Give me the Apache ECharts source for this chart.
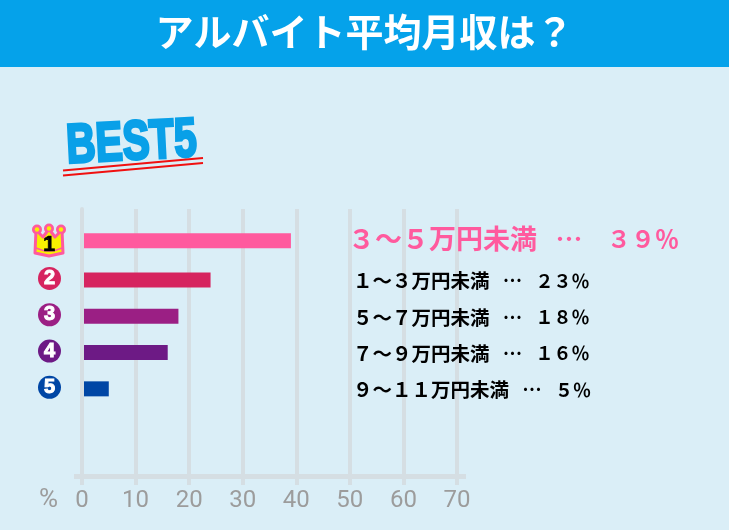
<!DOCTYPE html>
<html>
<head>
<meta charset="utf-8">
<style>
  html, body { margin: 0; padding: 0; background: #daeef7; }
  #chart { width: 729px; height: 530px; }
</style>
<script src="https://cdn.jsdelivr.net/npm/echarts@6/dist/echarts.min.js"></script>
</head>
<body>
<div id="chart"></div>
<script>
var titleText = 'アルバイト平均月収は？';
var categories = ['３～５万円未満', '１～３万円未満', '５～７万円未満', '７～９万円未満', '９～１１万円未満'];
var percents = ['３９', '２３', '１８', '１６', '５'];
// bar lengths as drawn (the second bar is drawn longer than its 23% label)
var barValues = [39, 24, 18, 16, 5];
var ranks = ['1', '2', '3', '4', '5'];
var rankColors = ['#ff5a9e', '#d6245f', '#9b1f84', '#6d1a85', '#0046a5'];
var tickValues = [0, 10, 20, 30, 40, 50, 60, 70];

var gridColor = '#d5dee3';
var jpFont = 'Noto Sans CJK JP';
var crownPink = '#ff5a9e';
var crownYellow = '#f8f000';
var chart = echarts.init(document.getElementById('chart'));

function barData(from, to) {
    return barValues.map(function (v, i) {
        if (i < from || i > to) return null;
        return { value: v, itemStyle: { color: rankColors[i] } };
    });
}

var badgeRich = {};
ranks.forEach(function (r, i) {
    badgeRich['r' + r] = {
        width: 23, height: 23, lineHeight: 23, borderRadius: 12,
        align: 'center', backgroundColor: rankColors[i], color: '#fff',
        textBorderColor: '#fff', textBorderWidth: 1,
        fontFamily: 'Liberation Sans', fontWeight: 'bold', fontSize: 20
    };
});

function crownTip(cx, cy) {
    return [
        { type: 'circle', z: 2, shape: { cx: cx, cy: cy, r: 5 }, style: { fill: crownPink } },
        { type: 'circle', z: 4, shape: { cx: cx, cy: cy, r: 2.2 }, style: { fill: crownYellow } }
    ];
}

var option = {
    backgroundColor: '#daeef7',
    animation: false,
    title: {
        text: titleText, left: 'center', top: 8,
        textStyle: { color: '#fff', fontSize: 38, fontWeight: 'bold', fontFamily: jpFont }
    },
    // grid 0 carries the axis and gridlines, grid 1 the five rows
    grid: [
        { left: 82, width: 375, top: 209, height: 267 },
        { left: 82, width: 375, top: 224, height: 181.5 }
    ],
    xAxis: [{
        gridIndex: 0, type: 'value', min: 0, max: 70, interval: 10,
        axisLine: { show: true, lineStyle: { color: gridColor, width: 5 } },
        axisTick: { show: true, length: 9, lineStyle: { color: gridColor, width: 4 } },
        splitLine: { show: true, lineStyle: { color: gridColor, width: 4 } },
        axisLabel: {
            margin: 13, color: '#9c9c9c', fontSize: 24,
            fontFamily: 'Roboto',
            customValues: tickValues
        }
    }, {
        gridIndex: 1, type: 'value', min: 0, max: 70, show: false
    }],
    yAxis: [{
        // zero line sits on top of the bars
        gridIndex: 0, type: 'value', z: 3,
        axisLine: { show: true, lineStyle: { color: gridColor, width: 4 } },
        axisTick: { show: false }, axisLabel: { show: false }, splitLine: { show: false }
    }, {
        gridIndex: 1, type: 'category', inverse: true, data: categories,
        axisLine: { show: false }, axisTick: { show: false },
        axisLabel: {
            interval: 0, margin: 32.5, align: 'center', rich: badgeRich,
            formatter: function (v, i) {
                return i === 0 ? '' : '{r' + ranks[i] + '|' + ranks[i] + '}';
            }
        }
    }, {
        gridIndex: 1, type: 'category', inverse: true, data: categories,
        position: 'right', offset: -109,
        axisLine: { show: false }, axisTick: { show: false },
        axisLabel: {
            interval: 0, margin: 0, align: 'left',
            rich: {
                top: { color: rankColors[0], fontSize: 27, fontWeight: 'bold', fontFamily: jpFont, padding: [0, 0, 6, 0] },
                topPct: { color: rankColors[0], fontSize: 24, fontWeight: 'bold', fontFamily: jpFont, padding: [0, 0, 6, 0] },
                row: { color: '#000', fontSize: 19.5, fontWeight: 'bold', fontFamily: jpFont, padding: [5, 0, 0, 5] },
                rowPct: { color: '#000', fontSize: 18, fontWeight: 'bold', fontFamily: jpFont, padding: [5, 0, 0, 0] }
            },
            formatter: function (v, i) {
                var s = i === 0 ? 'top' : 'row';
                var gap2 = i === 0 ? '    ' : '   ';
                return '{' + s + '|' + v + '   …' + gap2 + '}{' + s + 'Pct|' + percents[i] + '％}';
            }
        }
    }],
    series: [{
        type: 'bar', xAxisIndex: 1, yAxisIndex: 1, barWidth: 15, barGap: '-80%',
        data: barData(0, 0)
    }, {
        type: 'bar', xAxisIndex: 1, yAxisIndex: 1, barWidth: 15, barGap: '-80%',
        data: barData(1, 4)
    }],
    graphic: [
        { type: 'rect', z: -1, shape: { x: 0, y: 0, width: 729, height: 67 }, style: { fill: '#05a2ea' } },
        // baseline runs a little past both ends of the axis
        { type: 'rect', z: 1, shape: { x: 74, y: 474, width: 392, height: 5 }, style: { fill: gridColor } },
        { type: 'text', x: 39, y: 487, style: { text: '%', fill: '#9c9c9c', fontSize: 26, fontFamily: 'Roboto' } },
        // BEST5 stamp
        {
            type: 'text', x: 65, y: 120, rotation: 3 * Math.PI / 180, scaleX: 0.88, scaleY: 1.2,
            style: { text: 'BEST5', fill: '#09a0e8', stroke: '#09a0e8', lineWidth: 2.5, fontSize: 46, fontWeight: 'bold', fontFamily: 'Liberation Sans' }
        },
        { type: 'line', z: 5, shape: { x1: 63, y1: 170.5, x2: 203, y2: 158 }, style: { stroke: '#f01010', lineWidth: 2 } },
        { type: 'line', z: 5, shape: { x1: 63, y1: 175.5, x2: 203, y2: 163 }, style: { stroke: '#f01010', lineWidth: 2 } },
        // crown
        {
            type: 'polygon', z: 3,
            shape: { points: [[36, 230], [43, 237], [49, 229], [55, 237], [62, 230], [63, 253], [49, 256], [35, 253]] },
            style: { fill: crownYellow, stroke: crownPink, lineWidth: 3, lineJoin: 'round' }
        },
        { type: 'polyline', z: 4, shape: { points: [[36, 248], [43, 250.5], [49, 251], [55, 250.5], [62, 248]] }, style: { stroke: crownPink, fill: 'none', lineWidth: 1.5 } }
    ].concat(crownTip(37, 229.5), crownTip(49, 228.5), crownTip(61, 229.5), [
        {
            type: 'text', z: 6, x: 49, y: 245,
            style: { text: '1', fill: '#000', stroke: '#000', lineWidth: 0.6, fontSize: 22, fontWeight: 'bold', fontFamily: 'Liberation Sans', align: 'center', verticalAlign: 'middle' }
        }
    ])
};

chart.setOption(option);
</script>
</body>
</html>
